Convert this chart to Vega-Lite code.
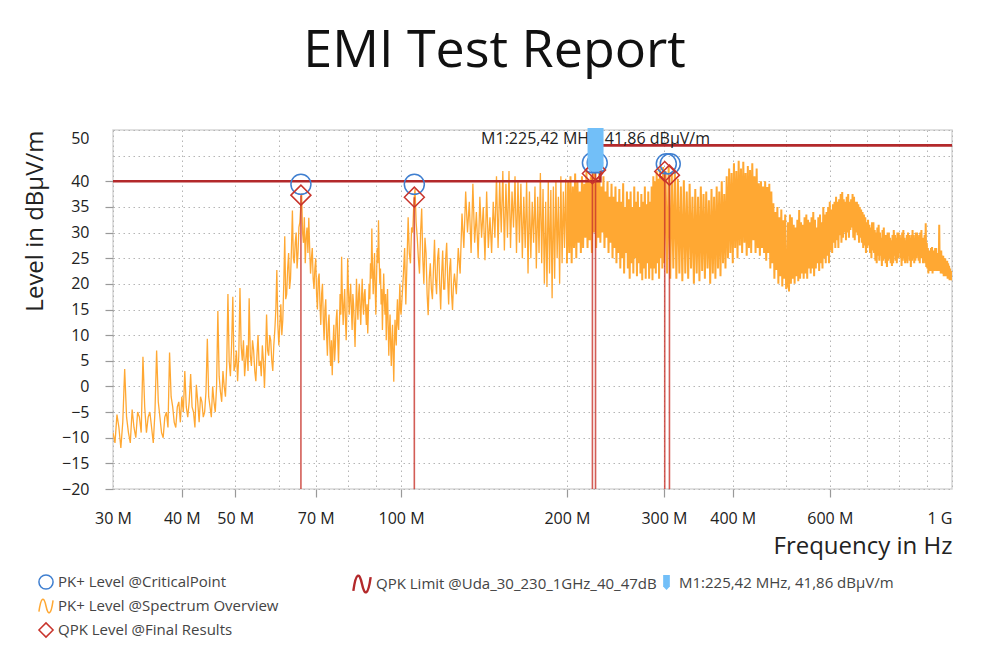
{
  "$schema": "https://vega.github.io/schema/vega-lite/v6.json",
  "width": 839,
  "height": 359,
  "autosize": {"type": "none"},
  "padding": {"left": 113, "top": 130, "right": 36, "bottom": 170},
  "background": "white",
  "config": {
    "font": "Open Sans",
    "view": {"stroke": "#d6d6d6", "strokeWidth": 1.5}
  },
  "title": {
    "text": "EMI Test Report",
    "font": "Open Sans",
    "fontSize": 52,
    "fontWeight": "normal",
    "color": "#111",
    "anchor": "middle",
    "frame": "group",
    "dx": -38,
    "offset": 50
  },
  "datasets": {
    "spec": [
      {"f":30,"v":-9},{"f":30.25,"v":-11},{"f":30.5,"v":-5.5},{"f":30.75,"v":-8},{"f":31,"v":-12},{"f":31.25,"v":-7},{"f":31.5,"v":3.4},{"f":31.75,"v":-6},{"f":32,"v":-9},{"f":32.25,"v":-11},
      {"f":32.5,"v":-4.5},{"f":32.75,"v":-8},{"f":33,"v":-10},{"f":33.25,"v":-5},{"f":33.5,"v":-6},{"f":33.75,"v":-9},{"f":34,"v":5.8},{"f":34.25,"v":-4},{"f":34.5,"v":-9},{"f":34.75,"v":-6},
      {"f":35,"v":-5},{"f":35.25,"v":-8},{"f":35.5,"v":-11},{"f":35.75,"v":-5},{"f":36,"v":7},{"f":36.25,"v":-3},{"f":36.5,"v":-6},{"f":36.75,"v":-9},{"f":37,"v":-10},{"f":37.25,"v":-6},
      {"f":37.5,"v":-5},{"f":37.75,"v":-8},{"f":38,"v":6.6},{"f":38.25,"v":-2},{"f":38.5,"v":-4},{"f":38.75,"v":-7},{"f":39,"v":-8},{"f":39.25,"v":-4},{"f":39.5,"v":-3},{"f":39.75,"v":-7},
      {"f":40,"v":-2},{"f":40.25,"v":-5},{"f":40.5,"v":3},{"f":40.75,"v":-4},{"f":41,"v":-6},{"f":41.25,"v":-3},{"f":41.5,"v":2.4},{"f":41.75,"v":-4},{"f":42,"v":-5},{"f":42.25,"v":-8},
      {"f":42.5,"v":0.3},{"f":42.75,"v":-3},{"f":43,"v":-7},{"f":43.25,"v":-2},{"f":43.5,"v":-3},{"f":43.75,"v":-6},{"f":44,"v":-5},{"f":44.25,"v":-1},{"f":44.5,"v":9.3},{"f":44.75,"v":-2},
      {"f":45,"v":-4},{"f":45.25,"v":-6},{"f":45.5,"v":0},{"f":45.75,"v":-3},{"f":46,"v":-5},{"f":46.25,"v":0},{"f":46.5,"v":14.7},{"f":46.75,"v":2},{"f":47,"v":-1},{"f":47.25,"v":-3},
      {"f":47.5,"v":3},{"f":47.75,"v":0},{"f":48,"v":-2},{"f":48.25,"v":4},{"f":48.5,"v":18},{"f":48.75,"v":5},{"f":49,"v":2},{"f":49.25,"v":8},{"f":49.5,"v":17.5},{"f":49.75,"v":3},
      {"f":50,"v":4},{"f":50.25,"v":7},{"f":50.5,"v":1},{"f":50.75,"v":6},{"f":51,"v":19.2},{"f":51.25,"v":8},{"f":51.5,"v":5},{"f":51.75,"v":9},{"f":52,"v":2},{"f":52.25,"v":5},
      {"f":52.5,"v":8},{"f":52.75,"v":3},{"f":53,"v":17.2},{"f":53.25,"v":6},{"f":53.5,"v":4},{"f":53.75,"v":9},{"f":54,"v":7},{"f":54.25,"v":3},{"f":54.5,"v":1},{"f":54.75,"v":6},
      {"f":55,"v":10},{"f":55.25,"v":4},{"f":55.5,"v":5},{"f":55.75,"v":2},{"f":56,"v":8},{"f":56.25,"v":5},{"f":56.5,"v":-0.3},{"f":56.75,"v":6},{"f":57,"v":14},{"f":57.25,"v":7},
      {"f":57.5,"v":6},{"f":57.75,"v":10},{"f":58,"v":9},{"f":58.25,"v":5},{"f":58.5,"v":3},{"f":58.75,"v":8},{"f":59,"v":11},{"f":59.25,"v":15},{"f":59.5,"v":22.7},{"f":59.75,"v":12},
      {"f":60,"v":8},{"f":60.25,"v":12},{"f":60.5,"v":16},{"f":60.75,"v":10},{"f":61,"v":13},{"f":61.25,"v":20},{"f":61.5,"v":29.3},{"f":61.75,"v":17},{"f":62,"v":18},{"f":62.25,"v":23},
      {"f":62.5,"v":26},{"f":62.75,"v":19},{"f":63,"v":21},{"f":63.25,"v":27},{"f":63.5,"v":34.3},{"f":63.75,"v":25},{"f":64,"v":24},{"f":64.25,"v":28},{"f":64.5,"v":30},{"f":64.75,"v":23},
      {"f":65,"v":26},{"f":65.25,"v":31},{"f":65.5,"v":32},{"f":65.75,"v":35},{"f":66,"v":37.6},{"f":66.25,"v":30},{"f":66.5,"v":28},{"f":66.75,"v":33},{"f":67,"v":24},{"f":67.25,"v":29},
      {"f":67.5,"v":31},{"f":67.75,"v":26},{"f":68,"v":32.9},{"f":68.25,"v":27},{"f":68.5,"v":22},{"f":68.75,"v":25},{"f":69,"v":27},{"f":69.25,"v":21},{"f":69.5,"v":19},{"f":69.75,"v":23},
      {"f":70,"v":25},{"f":70.25,"v":18},{"f":70.5,"v":15},{"f":70.75,"v":21},{"f":71,"v":22},{"f":71.25,"v":16},{"f":71.5,"v":12},{"f":71.75,"v":18},{"f":72,"v":20},{"f":72.25,"v":13},
      {"f":72.5,"v":9},{"f":72.75,"v":15},{"f":73,"v":17},{"f":73.25,"v":10},{"f":73.5,"v":6},{"f":73.75,"v":12},{"f":74,"v":14},{"f":74.25,"v":8},{"f":74.5,"v":4},{"f":74.75,"v":9},
      {"f":75,"v":2.2},{"f":75.25,"v":8},{"f":75.5,"v":12},{"f":75.75,"v":5},{"f":76,"v":8},{"f":76.25,"v":13},{"f":76.5,"v":15},{"f":76.75,"v":9},{"f":77,"v":4.5},{"f":77.25,"v":11},
      {"f":77.5,"v":18},{"f":77.75,"v":14},{"f":78,"v":25.3},{"f":78.25,"v":17},{"f":78.5,"v":12},{"f":78.75,"v":16},{"f":79,"v":19},{"f":79.25,"v":13},{"f":79.5,"v":9},{"f":79.75,"v":15},
      {"f":80,"v":25},{"f":80.25,"v":19},{"f":80.5,"v":14},{"f":80.75,"v":17},{"f":81,"v":20},{"f":81.25,"v":15},{"f":81.5,"v":11},{"f":81.75,"v":18},{"f":82,"v":16},{"f":82.25,"v":12},
      {"f":82.5,"v":7.7},{"f":82.75,"v":14},{"f":83,"v":21},{"f":83.25,"v":16},{"f":83.5,"v":13},{"f":83.75,"v":18},{"f":84,"v":20},{"f":84.25,"v":15},{"f":84.5,"v":12},{"f":84.75,"v":17},
      {"f":85,"v":21},{"f":85.25,"v":16},{"f":85.5,"v":14},{"f":85.75,"v":18},{"f":86,"v":19},{"f":86.25,"v":15},{"f":86.5,"v":12},{"f":86.75,"v":16},{"f":87,"v":10.3},{"f":87.25,"v":15},
      {"f":87.5,"v":20},{"f":87.75,"v":17},{"f":88,"v":24},{"f":88.25,"v":21},{"f":88.5,"v":30.8},{"f":88.75,"v":23},{"f":89,"v":18},{"f":89.25,"v":22},{"f":89.5,"v":26},{"f":89.75,"v":19},
      {"f":90,"v":14},{"f":90.25,"v":21},{"f":90.5,"v":27},{"f":90.75,"v":24},{"f":91,"v":32.4},{"f":91.25,"v":25},{"f":91.5,"v":20},{"f":91.75,"v":23},{"f":92,"v":16},{"f":92.25,"v":19},
      {"f":92.5,"v":11},{"f":92.75,"v":17},{"f":93,"v":22},{"f":93.25,"v":17},{"f":93.5,"v":14},{"f":93.75,"v":18},{"f":94,"v":9},{"f":94.25,"v":15},{"f":94.5,"v":19},{"f":94.75,"v":12},
      {"f":95,"v":6},{"f":95.25,"v":11},{"f":95.5,"v":14},{"f":95.75,"v":8},{"f":96,"v":4},{"f":96.25,"v":9},{"f":96.5,"v":12},{"f":96.75,"v":6},{"f":97,"v":0.9},{"f":97.25,"v":8},
      {"f":97.5,"v":13},{"f":97.75,"v":10},{"f":98,"v":8},{"f":98.25,"v":14},{"f":98.5,"v":17},{"f":98.75,"v":12},{"f":99,"v":11},{"f":99.25,"v":16},{"f":99.5,"v":20},{"f":99.75,"v":15},
      {"f":100,"v":14},{"f":100.5,"v":18},{"f":101,"v":22},{"f":101.5,"v":27},{"f":102,"v":16},{"f":102.5,"v":24},{"f":103,"v":33},{"f":103.5,"v":26},{"f":104,"v":24},{"f":104.5,"v":31},
      {"f":105,"v":30},{"f":105.5,"v":36},{"f":106,"v":38.5},{"f":106.5,"v":32},{"f":107,"v":29},{"f":107.5,"v":25},{"f":108,"v":22},{"f":108.5,"v":30},{"f":109,"v":34.7},{"f":109.5,"v":25},
      {"f":110,"v":20},{"f":110.5,"v":29},{"f":111,"v":26},{"f":111.5,"v":18},{"f":112,"v":13.9},{"f":112.5,"v":21},{"f":113,"v":24},{"f":113.5,"v":19},{"f":114,"v":17},{"f":114.5,"v":23},
      {"f":115,"v":28.6},{"f":115.5,"v":21},{"f":116,"v":18},{"f":116.5,"v":25},{"f":117,"v":27},{"f":117.5,"v":20},{"f":118,"v":15},{"f":118.5,"v":22},{"f":119,"v":26.5},{"f":119.5,"v":19},
      {"f":120,"v":19},{"f":120.5,"v":25},{"f":121,"v":28},{"f":121.5,"v":21},{"f":122,"v":16},{"f":122.5,"v":23},{"f":123,"v":25},{"f":123.5,"v":18},{"f":124,"v":14.9},{"f":124.5,"v":20},
      {"f":125,"v":22},{"f":126,"v":18},{"f":127,"v":27},{"f":128,"v":22},{"f":129,"v":33.7},{"f":130,"v":27},
      {"f":131,"v":38},{"f":132,"v":30},{"f":133,"v":36},{"f":134,"v":26},{"f":135,"v":39.5},{"f":136,"v":28},{"f":137,"v":34},{"f":138,"v":25},{"f":139,"v":37},{"f":140,"v":29},
      {"f":141,"v":35},{"f":142,"v":24.6},{"f":143,"v":38},{"f":144,"v":27},{"f":145,"v":33},{"f":146,"v":26},{"f":147,"v":36},{"f":148,"v":29},{"f":149,"v":41},{"f":150,"v":27},
      {"f":151,"v":40},{"f":152,"v":30},{"f":153,"v":42},{"f":154,"v":26.5},{"f":155,"v":39.5},{"f":156,"v":29},{"f":157,"v":42},{"f":158,"v":27},{"f":159,"v":38},{"f":160,"v":31},
      {"f":161,"v":41},{"f":162,"v":26},{"f":163,"v":40},{"f":164,"v":28},{"f":165,"v":39.5},{"f":166,"v":25},{"f":167,"v":37},{"f":168,"v":27},{"f":169,"v":40},{"f":170,"v":22},
      {"f":171,"v":38},{"f":172,"v":25},{"f":173,"v":36},{"f":174,"v":28},{"f":175,"v":39},{"f":176,"v":23},{"f":177,"v":37},{"f":178,"v":26},{"f":179,"v":41.6},{"f":180,"v":24},
      {"f":181,"v":38.5},{"f":182,"v":20},{"f":183,"v":36},{"f":184,"v":19.4},{"f":185,"v":40},{"f":186,"v":22},{"f":187,"v":38.3},{"f":188,"v":17.2},{"f":189,"v":39},{"f":190,"v":21},
      {"f":191,"v":40},{"f":192,"v":25},{"f":193,"v":37},{"f":194,"v":20},{"f":195,"v":41},{"f":196,"v":24},{"f":197,"v":38},{"f":198,"v":27},{"f":199,"v":40.5},{"f":200,"v":24},
      {"f":201,"v":40},{"f":202,"v":26},{"f":203,"v":41},{"f":204,"v":24},{"f":205,"v":39},{"f":206,"v":27},{"f":207,"v":41.5},{"f":208,"v":25},{"f":209,"v":40},{"f":210,"v":28},
      {"f":211,"v":38},{"f":212,"v":26},{"f":213,"v":41},{"f":214,"v":27},{"f":215,"v":39.5},{"f":216,"v":29},{"f":217,"v":42},{"f":218,"v":27},{"f":219,"v":40},{"f":220,"v":28.5},
      {"f":221,"v":41},{"f":222,"v":26},{"f":223,"v":42.5},{"f":224,"v":30},{"f":225,"v":41.8},{"f":226,"v":27},{"f":227,"v":40},{"f":228,"v":29},{"f":229,"v":42.2},{"f":230,"v":28},
      {"f":231,"v":39},{"f":232,"v":30},{"f":233,"v":41},{"f":234,"v":27},{"f":235,"v":38},{"f":236,"v":29},{"f":237,"v":40},{"f":238,"v":26},{"f":239,"v":37},{"f":240,"v":28},
      {"f":241,"v":39.5},{"f":242,"v":25},{"f":243,"v":37},{"f":244,"v":27},{"f":245,"v":39},{"f":246,"v":24},{"f":247,"v":36},{"f":248,"v":26},{"f":249,"v":38.5},{"f":250,"v":23},
      {"f":251,"v":36},{"f":252,"v":25},{"f":253,"v":39.6},{"f":254,"v":22},{"f":255,"v":35},{"f":256,"v":26},{"f":257,"v":38},{"f":258,"v":23},{"f":259,"v":36.5},{"f":260,"v":21},
      {"f":261,"v":38},{"f":262,"v":24},{"f":263,"v":35},{"f":264,"v":22},{"f":265,"v":39},{"f":266,"v":25},{"f":267,"v":36},{"f":268,"v":21.5},{"f":269,"v":38},{"f":270,"v":24},
      {"f":271,"v":35},{"f":272,"v":22},{"f":273,"v":37.5},{"f":274,"v":20.7},{"f":275,"v":36},{"f":276,"v":23},{"f":277,"v":39},{"f":278,"v":21},{"f":279,"v":35.5},{"f":280,"v":24},
      {"f":281,"v":38},{"f":282,"v":21},{"f":283,"v":36},{"f":284,"v":23},{"f":285,"v":39},{"f":286,"v":20.7},{"f":287,"v":41},{"f":288,"v":23},{"f":289,"v":40},{"f":290,"v":22},
      {"f":291,"v":42},{"f":292,"v":24},{"f":293,"v":40.5},{"f":294,"v":21},{"f":295,"v":42.5},{"f":296,"v":25},{"f":297,"v":41},{"f":298,"v":23},{"f":299,"v":42.8},{"f":300,"v":24},
      {"f":302,"v":42},{"f":304,"v":22},{"f":306,"v":42.8},{"f":308,"v":21},{"f":310,"v":41.6},{"f":312,"v":23},{"f":314,"v":42},{"f":316,"v":21},{"f":318,"v":40.5},{"f":320,"v":22},
      {"f":322,"v":39},{"f":324,"v":20.5},{"f":326,"v":40.2},{"f":328,"v":22},{"f":330,"v":38},{"f":332,"v":21},{"f":334,"v":39.5},{"f":336,"v":23},{"f":338,"v":37},{"f":340,"v":20},
      {"f":342,"v":38.5},{"f":344,"v":22},{"f":346,"v":37},{"f":348,"v":20.5},{"f":350,"v":39},{"f":352,"v":22.5},{"f":354,"v":37.5},{"f":356,"v":21},{"f":358,"v":38},{"f":360,"v":23},
      {"f":362,"v":36.3},{"f":364,"v":20},{"f":366,"v":38.5},{"f":368,"v":22},{"f":370,"v":37},{"f":372,"v":21},{"f":374,"v":39},{"f":376,"v":23},{"f":378,"v":38},{"f":380,"v":21.5},
      {"f":382,"v":40},{"f":384,"v":24},{"f":386,"v":37.5},{"f":388,"v":23},{"f":390,"v":41},{"f":392,"v":25},{"f":394,"v":42.5},{"f":396,"v":26},{"f":398,"v":41.6},{"f":400,"v":24},
      {"f":402,"v":43.5},{"f":404,"v":27},{"f":406,"v":42},{"f":408,"v":25},{"f":410,"v":44},{"f":412,"v":27.5},{"f":414,"v":42.5},{"f":416,"v":26},{"f":418,"v":43.8},{"f":420,"v":28},
      {"f":422,"v":41.6},{"f":424,"v":25.5},{"f":426,"v":43},{"f":428,"v":27},{"f":430,"v":42.2},{"f":432,"v":26},{"f":434,"v":43.5},{"f":436,"v":28.5},{"f":438,"v":41},{"f":440,"v":26},
      {"f":442,"v":42.5},{"f":444,"v":27},{"f":446,"v":39.6},{"f":448,"v":25.5},{"f":450,"v":40},{"f":452,"v":27},{"f":454,"v":39},{"f":456,"v":26},{"f":458,"v":40},{"f":460,"v":24.5},
      {"f":462,"v":38.9},{"f":464,"v":26},{"f":466,"v":39.5},{"f":468,"v":23},{"f":470,"v":38},{"f":472,"v":24},{"f":474,"v":35.7},{"f":476,"v":21},{"f":478,"v":34},{"f":480,"v":22.7},
      {"f":482,"v":35},{"f":484,"v":20},{"f":486,"v":33},{"f":488,"v":21.5},{"f":490,"v":34.5},{"f":492,"v":19.5},{"f":494,"v":32.4},{"f":496,"v":21},{"f":498,"v":33.5},{"f":500,"v":19},
      {"f":502,"v":19.5},{"f":504,"v":32},{"f":506,"v":18.5},{"f":508,"v":33.5},{"f":510,"v":20},{"f":512,"v":33},{"f":514,"v":21},{"f":516,"v":31.5},{"f":518,"v":20},{"f":520,"v":31},
      {"f":522,"v":21.5},{"f":524,"v":32.5},{"f":526,"v":20.5},{"f":528,"v":34.4},{"f":530,"v":21},{"f":532,"v":32},{"f":534,"v":22},{"f":536,"v":31.5},{"f":538,"v":21},{"f":540,"v":33},
      {"f":542,"v":22},{"f":544,"v":33.5},{"f":546,"v":21},{"f":548,"v":32.5},{"f":550,"v":23},{"f":552,"v":32},{"f":554,"v":22},{"f":556,"v":33},{"f":558,"v":23},{"f":560,"v":34},
      {"f":562,"v":21.5},{"f":564,"v":32.5},{"f":566,"v":23},{"f":568,"v":31},{"f":570,"v":24},{"f":572,"v":33},{"f":574,"v":22.5},{"f":576,"v":33.5},{"f":578,"v":24},{"f":580,"v":32},
      {"f":582,"v":23},{"f":584,"v":35},{"f":586,"v":25},{"f":588,"v":33.5},{"f":590,"v":24},{"f":592,"v":34},{"f":594,"v":25.5},{"f":596,"v":35},{"f":598,"v":24},{"f":600,"v":36},
      {"f":602,"v":26.5},{"f":604,"v":34.5},{"f":606,"v":26},{"f":608,"v":35.5},{"f":610,"v":28},{"f":612,"v":36},{"f":614,"v":27},{"f":616,"v":37},{"f":618,"v":28.5},{"f":620,"v":36},
      {"f":622,"v":27},{"f":624,"v":36.5},{"f":626,"v":29.5},{"f":628,"v":37.5},{"f":630,"v":28},{"f":632,"v":37.9},{"f":634,"v":29},{"f":636,"v":36.5},{"f":638,"v":30},{"f":640,"v":36},
      {"f":642,"v":28.5},{"f":644,"v":37},{"f":646,"v":30},{"f":648,"v":37.5},{"f":650,"v":29},{"f":652,"v":36},{"f":654,"v":30.5},{"f":656,"v":36.5},{"f":658,"v":31},{"f":660,"v":37.5},
      {"f":662,"v":29},{"f":664,"v":37},{"f":666,"v":28.5},{"f":668,"v":36},{"f":670,"v":30},{"f":672,"v":36},{"f":674,"v":29.5},{"f":676,"v":35.5},{"f":678,"v":28},{"f":680,"v":35},
      {"f":682,"v":29},{"f":684,"v":34.5},{"f":686,"v":28},{"f":688,"v":34},{"f":690,"v":27},{"f":692,"v":33.5},{"f":694,"v":27.5},{"f":696,"v":33},{"f":698,"v":26},{"f":700,"v":32},
      {"f":702,"v":27},{"f":704,"v":32.5},{"f":706,"v":27.5},{"f":708,"v":31.5},{"f":710,"v":26},{"f":712,"v":31},{"f":714,"v":25},{"f":716,"v":32},{"f":718,"v":26.5},{"f":720,"v":32},
      {"f":722,"v":26},{"f":724,"v":30.5},{"f":726,"v":24.5},{"f":728,"v":30},{"f":730,"v":24},{"f":732,"v":31},{"f":734,"v":25.5},{"f":736,"v":31.5},{"f":738,"v":24.5},{"f":740,"v":30},
      {"f":742,"v":25.5},{"f":744,"v":29},{"f":746,"v":23.5},{"f":748,"v":30.5},{"f":750,"v":24.5},{"f":752,"v":31},{"f":754,"v":25},{"f":756,"v":29.5},{"f":758,"v":24},{"f":760,"v":29.5},
      {"f":762,"v":23.3},{"f":764,"v":30},{"f":766,"v":24.5},{"f":768,"v":30},{"f":770,"v":25},{"f":772,"v":29},{"f":774,"v":24},{"f":776,"v":28.5},{"f":778,"v":23.5},{"f":780,"v":29.5},
      {"f":782,"v":24},{"f":784,"v":30.5},{"f":786,"v":25.5},{"f":788,"v":29.5},{"f":790,"v":24.5},{"f":792,"v":29},{"f":794,"v":24},{"f":796,"v":30},{"f":798,"v":25},{"f":800,"v":30},
      {"f":802,"v":26},{"f":804,"v":29.5},{"f":806,"v":25},{"f":808,"v":29},{"f":810,"v":23.5},{"f":812,"v":30},{"f":814,"v":24.5},{"f":816,"v":30.5},{"f":818,"v":25},{"f":820,"v":29},
      {"f":822,"v":24},{"f":824,"v":28.5},{"f":826,"v":24.5},{"f":828,"v":29.5},{"f":830,"v":24},{"f":832,"v":30},{"f":834,"v":25.5},{"f":836,"v":29.5},{"f":838,"v":24.5},{"f":840,"v":29},
      {"f":842,"v":23.3},{"f":844,"v":29.5},{"f":846,"v":24.5},{"f":848,"v":30.5},{"f":850,"v":25},{"f":852,"v":29.5},{"f":854,"v":24},{"f":856,"v":29},{"f":858,"v":24.5},{"f":860,"v":30},
      {"f":862,"v":25},{"f":864,"v":30},{"f":866,"v":26},{"f":868,"v":29},{"f":870,"v":24.5},{"f":872,"v":29.5},{"f":874,"v":24},{"f":876,"v":30},{"f":878,"v":25},{"f":880,"v":30.5},
      {"f":882,"v":25},{"f":884,"v":29},{"f":886,"v":24},{"f":888,"v":29},{"f":890,"v":24.5},{"f":892,"v":29.5},{"f":894,"v":24},{"f":896,"v":31.8},{"f":898,"v":23.3},{"f":900,"v":28},
      {"f":902,"v":23},{"f":904,"v":27},{"f":906,"v":22},{"f":908,"v":26.5},{"f":910,"v":23.5},{"f":912,"v":26},{"f":914,"v":22.5},{"f":916,"v":27},{"f":918,"v":23.5},{"f":920,"v":27.2},
      {"f":922,"v":22},{"f":924,"v":26.5},{"f":926,"v":23},{"f":928,"v":26.5},{"f":930,"v":22.5},{"f":932,"v":27},{"f":934,"v":23},{"f":936,"v":27},{"f":938,"v":22.5},{"f":940,"v":26},
      {"f":942,"v":23},{"f":944,"v":26},{"f":946,"v":22.5},{"f":948,"v":31.5},{"f":950,"v":23},{"f":952,"v":26.5},{"f":954,"v":22},{"f":956,"v":26.5},{"f":958,"v":22.5},{"f":960,"v":25.5},
      {"f":962,"v":22},{"f":964,"v":25.5},{"f":966,"v":21.5},{"f":968,"v":25},{"f":970,"v":22},{"f":972,"v":25},{"f":974,"v":21.5},{"f":976,"v":24.5},{"f":978,"v":22},{"f":980,"v":24.5},
      {"f":982,"v":21},{"f":984,"v":24},{"f":986,"v":21.5},{"f":988,"v":23.5},{"f":990,"v":20.7},{"f":992,"v":23},{"f":994,"v":21},{"f":996,"v":22.5},{"f":998,"v":20.7},{"f":1000,"v":21}
    ],
    "limit": [
      {"f": 30, "v": 40}, {"f": 230, "v": 40}, {"f": 230, "v": 47}, {"f": 1000, "v": 47}
    ],
    "qpk": [
      {"f": 65.8, "v": 37.3}, {"f": 105.7, "v": 36.9}, {"f": 222.5, "v": 41.5},
      {"f": 225.4, "v": 42.2}, {"f": 301, "v": 41.9}, {"f": 307, "v": 41.2}
    ],
    "crit": [
      {"f": 65.8, "v": 39.4}, {"f": 105.7, "v": 39.4}, {"f": 222.5, "v": 43.6},
      {"f": 227, "v": 43.6}, {"f": 303, "v": 43.4}, {"f": 308, "v": 43.4}
    ],
    "marker": [
      {"f": 225.42, "v": 41.86, "label": "M1:225,42 MHz, 41,86 dBµV/m"}
    ]
  },
  "encoding": {
    "x": {
      "field": "f",
      "type": "quantitative",
      "scale": {"type": "log", "domain": [30, 1000], "nice": false, "padding": 0},
      "axis": {
        "title": "Frequency in Hz",
        "titleFontSize": 24,
        "titleFontWeight": "normal",
        "titleColor": "#222",
        "titleAnchor": "end",
        "titlePadding": 8,
        "values": [30, 40, 50, 60, 70, 80, 90, 100, 200, 300, 400, 500, 600, 700, 800, 900, 1000],
        "labelExpr": "indexof([30,40,50,70,100,200,300,400,600], datum.value) >= 0 ? datum.value + ' M' : (datum.value == 1000 ? '1 G' : '')",
        "labelAlign": {"condition": {"test": "datum.value == 1000", "value": "right"}, "value": "center"},
        "labelFontSize": 16,
        "labelColor": "#222",
        "labelPadding": 13,
        "labelOverlap": false,
        "labelFlush": false,
        "domain": false,
        "tickColor": "#999",
        "tickSize": 8,
        "tickWidth": 1.2,
        "tickOpacity": {"condition": {"test": "indexof([40,50,70,100,200,300,400,600], datum.value) >= 0", "value": 1}, "value": 0},
        "grid": true,
        "gridColor": "#b5b5b5",
        "gridDash": [1.5, 3.5],
        "gridWidth": 1
      }
    },
    "y": {
      "field": "v",
      "type": "quantitative",
      "scale": {"domain": [-20, 50], "nice": false, "zero": false, "padding": 0},
      "axis": {
        "title": "Level in dBµV/m",
        "titleFontSize": 24,
        "titleFontWeight": "normal",
        "titleColor": "#222",
        "titleAnchor": "end",
        "titlePadding": 14,
        "values": [-20, -15, -10, -5, 0, 5, 10, 15, 20, 25, 30, 35, 40, 45, 50],
        "labelExpr": "datum.value == 45 ? '' : datum.label",
        "labelBaseline": {"condition": {"test": "datum.value == 50", "value": "top"}, "value": "middle"},
        "labelFontSize": 16,
        "labelColor": "#222",
        "labelPadding": 16,
        "labelOverlap": false,
        "labelFlush": false,
        "domain": false,
        "tickColor": "#999",
        "tickSize": 8,
        "tickWidth": 1.2,
        "tickOpacity": {"condition": {"test": "datum.value >= 45", "value": 0}, "value": 1},
        "grid": true,
        "gridColor": "#b5b5b5",
        "gridDash": [1.5, 3.5],
        "gridWidth": 1
      }
    }
  },
  "layer": [
    {
      "data": {"name": "spec"},
      "transform": [{"filter": "datum.f <= 200"}],
      "mark": {"type": "line", "strokeWidth": 1.3, "clip": true},
      "encoding": {
        "color": {
          "datum": "PK+ Level @Spectrum Overview",
          "type": "nominal",
          "scale": {
            "domain": ["PK+ Level @CriticalPoint", "PK+ Level @Spectrum Overview", "QPK Level @Final Results"],
            "range": ["#3f7fd0", "#ffa833", "#c8342c"]
          },
          "legend": {
            "orient": "none",
            "legendX": -75,
            "legendY": 444,
            "title": null,
            "labelFontSize": 15,
            "labelColor": "#444",
            "labelOffset": 4,
            "labelLimit": 0,
            "rowPadding": 3,
            "symbolSize": 200,
            "symbolStrokeWidth": 1.5,
            "encode": {
              "symbols": {
                "update": {
                  "shape": {"signal": "datum.value == 'PK+ Level @CriticalPoint' ? 'circle' : (datum.value == 'QPK Level @Final Results' ? 'diamond' : 'M-1,0.8C-0.7,-1.4 -0.3,-1.4 0,0C0.3,1.4 0.7,1.4 1,-0.8')"},
                  "fill": {"value": "transparent"}
                }
              }
            }
          }
        }
      }
    },
    {
      "data": {"name": "spec"},
      "transform": [{"filter": "datum.f >= 200"}],
      "mark": {"type": "line", "strokeWidth": 2, "clip": true},
      "encoding": {
        "color": {"datum": "PK+ Level @Spectrum Overview", "type": "nominal"}
      }
    },
    {
      "data": {"name": "limit"},
      "mark": {"type": "line", "strokeWidth": 2.6},
      "encoding": {
        "stroke": {
          "datum": "QPK Limit @Uda_30_230_1GHz_40_47dB",
          "type": "nominal",
          "scale": {"range": ["#b3292b"]},
          "legend": {
            "orient": "none",
            "legendX": 239,
            "legendY": 444,
            "title": null,
            "labelFontSize": 15,
            "labelColor": "#444",
            "labelOffset": 4,
            "labelLimit": 0,
            "symbolType": "M-1,0.8C-0.7,-1.4 -0.3,-1.4 0,0C0.3,1.4 0.7,1.4 1,-0.8",
            "symbolSize": 300,
            "symbolStrokeWidth": 2.4,
            "symbolFillColor": "transparent"
          }
        }
      }
    },
    {
      "data": {"name": "qpk"},
      "mark": {"type": "rule", "color": "#c8342c", "strokeWidth": 1.6, "opacity": 0.8},
      "encoding": {
        "y2": {"datum": -20}
      }
    },
    {
      "data": {"name": "crit"},
      "mark": {"type": "point", "shape": "circle", "filled": false, "size": 400, "strokeWidth": 1.5, "opacity": 1},
      "encoding": {
        "color": {"datum": "PK+ Level @CriticalPoint", "type": "nominal"}
      }
    },
    {
      "data": {"name": "qpk"},
      "mark": {"type": "point", "shape": "diamond", "filled": false, "size": 400, "strokeWidth": 1.5, "opacity": 1},
      "encoding": {
        "color": {"datum": "QPK Level @Final Results", "type": "nominal"}
      }
    },
    {
      "data": {"name": "marker"},
      "mark": {"type": "text", "fontSize": 16, "color": "#222", "align": "center", "baseline": "top", "dy": 1},
      "encoding": {
        "y": {"datum": 50},
        "text": {"field": "label", "type": "nominal"}
      }
    },
    {
      "data": {"name": "marker"},
      "mark": {"type": "bar", "size": 16, "clip": false, "cornerRadiusBottomLeft": 6, "cornerRadiusBottomRight": 6},
      "encoding": {
        "y2": {"datum": 50.4},
        "fill": {
          "datum": "M1:225,42 MHz, 41,86 dBµV/m",
          "type": "nominal",
          "scale": {"range": ["#72bff8"]},
          "legend": {
            "orient": "none",
            "legendX": 545,
            "legendY": 444,
            "title": null,
            "labelFontSize": 15,
            "labelColor": "#444",
            "labelOffset": 4,
            "labelLimit": 0,
            "symbolType": "M-0.45,-1H0.45V0.55L0,1L-0.45,0.55Z",
            "symbolSize": 220
          }
        }
      }
    }
  ]
}
